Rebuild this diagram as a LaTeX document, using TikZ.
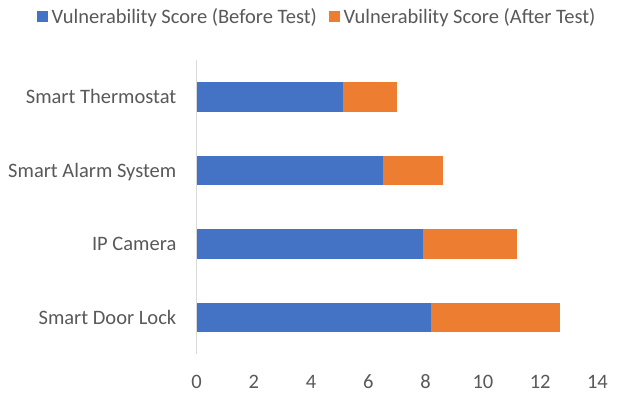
\documentclass[tikz,border=0pt]{standalone}
\usepackage{fontspec}
\setmainfont{Carlito}
\definecolor{barblue}{HTML}{4472C4}
\definecolor{barorange}{HTML}{ED7D31}
\definecolor{txtgray}{HTML}{595959}
\definecolor{axgray}{HTML}{D9D9D9}
\begin{document}
\begin{tikzpicture}[x=1pt,y=-1pt,
  lbl/.style={inner sep=0pt,text=txtgray,font=\fontsize{20.5}{24}\selectfont},
  before/.style={fill=barblue},
  after/.style={fill=barorange},
  axisline/.style={draw=axgray,line width=1pt}]
\useasboundingbox[fill=white] (0,0) rectangle (620,393);
% legend
\fill[before] (36.7,10.7) rectangle (47.7,21.7);
\node[lbl,anchor=base west] (lg1) at (51.5,23.3) {Vulnerability Score (Before Test)};
\fill[after] (329,10.7) rectangle (340,21.7);
\node[lbl,anchor=base west] (lg2) at (343.3,23.3) {Vulnerability Score (After Test)};
% bars: x0=196.5, 28.64 px per unit
\def\xz{196.5}
\def\sc{28.64}
\foreach \yc/\b/\a [count=\i] in {97/5.1/7.0, 170.7/6.5/8.6, 244/7.9/11.2, 317.5/8.2/12.7}{
  \fill[before] (\xz,\yc-14.7) rectangle ({\xz+\b*\sc},\yc+14.7);
  \fill[after] ({\xz+\b*\sc},\yc-14.7) rectangle ({\xz+\a*\sc},\yc+14.7);
}
% category labels
\node[lbl,anchor=base east] (c1) at (176.5,103.5) {Smart Thermostat};
\node[lbl,anchor=base east] (c2) at (176.5,177.2) {Smart Alarm System};
\node[lbl,anchor=base east] (c3) at (176.5,250.5) {IP Camera};
\node[lbl,anchor=base east] (c4) at (176.5,324) {Smart Door Lock};
% axis
\coordinate (atop) at (\xz,60.3);
\coordinate (abot) at (\xz,354.3);
\draw[axisline] (atop) -- (abot);
% tick labels
\foreach \v in {0,2,...,14}{
  \node[lbl,anchor=base] (t\v) at ({\xz+\v*\sc},388.3) {\v};
}
\end{tikzpicture}
\end{document}
